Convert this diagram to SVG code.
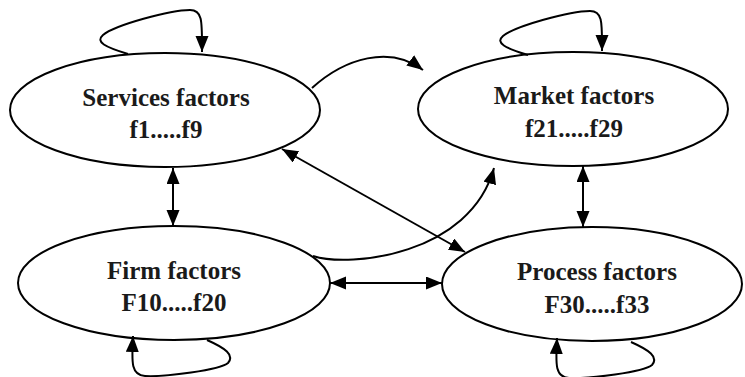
<svg xmlns="http://www.w3.org/2000/svg" width="745" height="377" viewBox="0 0 745 377">
  <style>
    .node ellipse { fill: #ffffff; stroke: #000000; stroke-width: 2; }
    .node text { font-family: "Liberation Serif", "Times New Roman", serif; font-weight: bold; font-size: 25px; fill: #1a1a1a; text-anchor: middle; }
    .edge { fill: none; stroke: #000000; stroke-width: 2; }
    .one { marker-end: url(#head); }
    .two { marker-start: url(#head); marker-end: url(#head); }
  </style>
  <defs>
    <marker id="head" markerUnits="userSpaceOnUse" markerWidth="18" markerHeight="14" refX="16" refY="6.5" orient="auto-start-reverse">
      <path d="M0,0 L16,6.5 L0,13 Z" fill="#000000"/>
    </marker>
  </defs>

  <rect width="745" height="377" fill="#ffffff"/>

  <g id="node-services" class="node">
    <ellipse cx="165" cy="110" rx="155" ry="57"/>
    <text x="166" y="106">Services factors</text>
    <text x="166" y="138">f1.....f9</text>
  </g>

  <g id="node-market" class="node">
    <ellipse cx="573" cy="109" rx="155" ry="57"/>
    <text x="574" y="104">Market factors</text>
    <text x="574" y="137">f21.....f29</text>
  </g>

  <g id="node-firm" class="node">
    <ellipse cx="174" cy="283" rx="156" ry="57"/>
    <text x="174" y="279">Firm factors</text>
    <text x="174" y="311">F10.....f20</text>
  </g>

  <g id="node-process" class="node">
    <ellipse cx="592" cy="284" rx="150" ry="57"/>
    <text x="597" y="280">Process factors</text>
    <text x="597" y="313">F30.....f33</text>
  </g>

  <g id="connectors">
    <!-- self loops -->
    <path class="edge one" d="M128,54 C105,47 95,42 103,35 C115,25 170,10 190,10 C203,10 202,22 202,52"/>
    <path class="edge one" d="M528,55 C505,48 495,43 503,36 C515,26 570,11 590,11 C603,11 602,23 602,51"/>
    <path class="edge one" d="M207,340 C225,348 235,355 228,363 C220,370 165,377 145,376 C130,375 132,360 133,336"/>
    <path class="edge one" d="M631,342 C649,350 659,357 652,365 C644,372 589,379 569,378 C554,377 556,362 557,338"/>

    <!-- services to market -->
    <path class="edge one" d="M312,88 C345,58 390,45 423,70"/>
    <!-- firm to market -->
    <path class="edge one" d="M313,256 C350,268 470,255 494,168"/>

    <!-- two-way links -->
    <line class="edge two" x1="173" y1="168" x2="173" y2="226"/>
    <line class="edge two" x1="583" y1="166" x2="583" y2="227"/>
    <line class="edge two" x1="330" y1="283" x2="442" y2="283"/>
    <line class="edge two" x1="282" y1="149" x2="465" y2="252"/>
  </g>
</svg>
